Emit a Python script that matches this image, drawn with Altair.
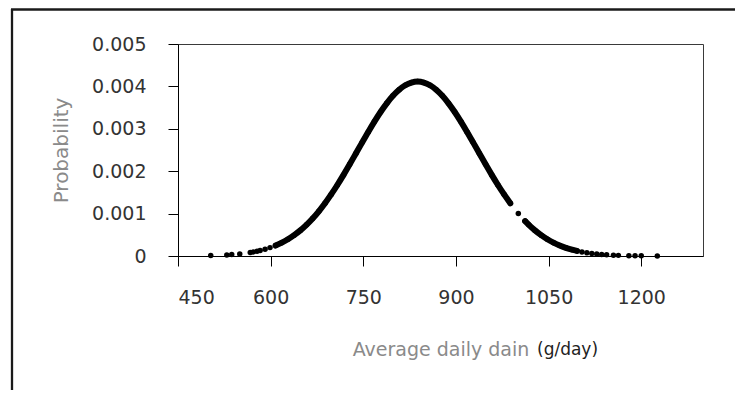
import altair as alt
import pandas as pd

# ---- data ----
left_tail_x = [503, 529, 537, 550, 567, 572, 578, 583, 591, 599]
left_tail_y = [0.0000106, 0.0000257, 0.0000334, 0.0000501, 0.0000830,
               0.0000958, 0.0001132, 0.0001299, 0.0001608, 0.0001977]

upper_x = [608, 618, 628, 638, 648, 658, 668, 678, 688, 698, 708, 718, 728,
           738, 748, 758, 768, 778, 788, 798, 808, 818, 828, 838, 848, 858,
           868, 878, 888, 898, 908, 918, 928, 938, 948, 958, 968, 978, 988]
upper_y = [0.000247, 0.000314, 0.000395, 0.000491, 0.000604, 0.000735,
           0.000885, 0.001055, 0.001244, 0.001452, 0.001675, 0.001913,
           0.002162, 0.002418, 0.002674, 0.002927, 0.003170, 0.003397,
           0.003601, 0.003778, 0.003921, 0.004027, 0.004091, 0.004113,
           0.004091, 0.004027, 0.003921, 0.003778, 0.003601, 0.003397,
           0.003170, 0.002927, 0.002674, 0.002418, 0.002162, 0.001913,
           0.001675, 0.001452, 0.001244]

single_x = [1001]
single_y = [0.001002]

lower_x = [1012, 1018, 1028, 1038, 1048, 1058, 1068, 1078, 1088, 1096]
lower_y = [0.000823, 0.000735, 0.000604, 0.000491, 0.000395, 0.000314,
           0.000247, 0.000193, 0.000148, 0.000120]

right_tail_x = [1104, 1112, 1120, 1128, 1136, 1144, 1155, 1163, 1180, 1190,
                1200, 1226]
right_tail_y = [0.0000958, 0.0000761, 0.0000601, 0.0000471, 0.0000367,
                0.0000284, 0.0000197, 0.0000150, 0.0000082, 0.0000057,
                0.0000039, 0.0000014]

x_ticks = [450, 600, 750, 900, 1050, 1200]
y_ticks = [0, 0.001, 0.002, 0.003, 0.004, 0.005]

x_title = "Average daily dain"
x_unit = "(g/day)"
y_title = "Probability"

# ---- tables ----
line_df = pd.concat([
    pd.DataFrame({"x": upper_x, "y": upper_y, "seg": "a"}),
    pd.DataFrame({"x": lower_x, "y": lower_y, "seg": "b"}),
], ignore_index=True)

pts_df = pd.DataFrame({
    "x": left_tail_x + upper_x + single_x + lower_x + right_tail_x,
    "y": left_tail_y + upper_y + single_y + lower_y + right_tail_y,
})

FONT = "DejaVu Sans"

x_enc = alt.X("x:Q",
              scale=alt.Scale(domain=[450, 1300], nice=False, zero=False),
              axis=alt.Axis(values=x_ticks, format="d", title=x_title, grid=False,
                            tickSize=10, tickColor="black", domainColor="black",
                            labelFont=FONT, labelFontSize=19, labelColor="#333333",
                            labelPadding=22,
                            titleFont=FONT, titleFontSize=19, titleFontWeight="normal",
                            titleColor="#8a8a8a", titleBaseline="alphabetic",
                            titleY=99))
y_enc = alt.Y("y:Q",
              scale=alt.Scale(domain=[0, 0.005], nice=False),
              axis=alt.Axis(values=y_ticks, title=y_title, grid=False,
                            labelExpr="datum.value == 0 ? '0' : format(datum.value, '.3f')",
                            tickSize=10, tickColor="black", domainColor="black",
                            labelFont=FONT, labelFontSize=19, labelColor="#333333",
                            labelPadding=22,
                            titleFont=FONT, titleFontSize=20, titleFontWeight="normal",
                            titleColor="#8a8a8a", titleAngle=-90,
                            titleBaseline="alphabetic", titleAlign="center",
                            titleX=-111, titleY=106))

line = alt.Chart(line_df).mark_line(
    color="black", strokeWidth=6, interpolate="monotone", strokeCap="round"
).encode(x=x_enc, y=y_enc, detail="seg:N")

pts = alt.Chart(pts_df).mark_circle(color="black", size=30, opacity=1).encode(
    x="x:Q", y="y:Q")

dummy = alt.Data(values=[{"a": 1}])

frame_left = alt.Chart(dummy).mark_rule(color="#1a1a1a", strokeWidth=2.3).encode(
    x=alt.value(-166), y=alt.value(-35), y2=alt.value(360))
frame_top = alt.Chart(dummy).mark_rule(color="#1a1a1a", strokeWidth=2.3).encode(
    x=alt.value(-167), x2=alt.value(600), y=alt.value(-34.5))

unit = alt.Chart(dummy).mark_text(
    text=x_unit, font=FONT, fontSize=17, color="#222222",
    align="left", baseline="alphabetic"
).encode(x=alt.value(359), y=alt.value(311))

chart = alt.layer(frame_left, frame_top, line, pts, unit).properties(
    width=525, height=212,
    padding={"left": 170, "top": 36, "right": 32, "bottom": 134},
    autosize=alt.AutoSizeParams(type="none"),
    background="white",
).configure_view(stroke="#3a3a3a", strokeWidth=1)

chart.save("out.html", embed_options={"renderer": "svg", "actions": False})
